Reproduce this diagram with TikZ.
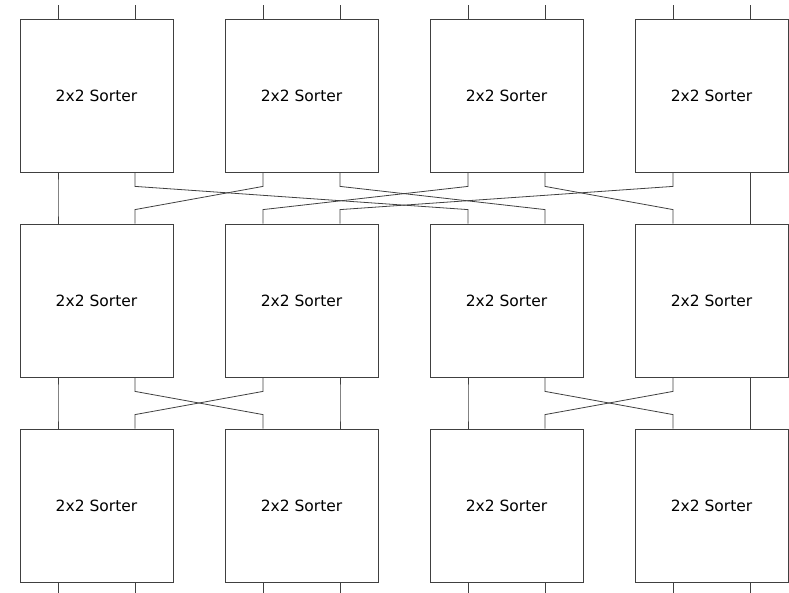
\documentclass[tikz,border=0pt]{standalone}
\usepackage{fontspec}
\setmainfont{DejaVu Sans}
\begin{document}
\begin{tikzpicture}[x=1pt,y=-1pt,
  sorter/.style={draw=black!75, line width=0.8pt, minimum width=153pt, minimum height=153pt, inner sep=0pt, font=\fontsize{15.5}{18}\selectfont},
  wire/.style={draw=black!75, line width=0.8pt}]
\useasboundingbox (0,0) rectangle (789,593);
% boxes
\foreach \c/\x in {1/96.5,2/301.5,3/506.5,4/711.5}{
  \foreach \r/\y in {1/95.5,2/300.5,3/505.5}{
    \node[sorter] (b\r\c) at (\x,\y) {2x2 Sorter};
  }
}
% port coordinates
\foreach \r in {1,2,3}{
  \foreach \c in {1,2,3,4}{
    \coordinate (t\r\c L) at ([xshift=-38.5pt]b\r\c.north);
    \coordinate (t\r\c R) at ([xshift=38.5pt]b\r\c.north);
    \coordinate (s\r\c L) at ([xshift=-38.5pt]b\r\c.south);
    \coordinate (s\r\c R) at ([xshift=38.5pt]b\r\c.south);
  }
}
% top and bottom stubs
\foreach \c in {1,2,3,4}{
  \draw[wire] (t1\c L) -- ++(0,-14);
  \draw[wire] (t1\c R) -- ++(0,-14);
  \draw[wire] (s3\c L) -- ++(0,12);
  \draw[wire] (s3\c R) -- ++(0,12);
}
% row1 -> row2 : 0->0,1->4,2->1,3->5,4->2,5->6,6->3,7->7
\newcommand{\conn}[2]{\draw[wire] (#1) -- ++(0,14) -- ([yshift=14pt]#2) -- (#2);}
\conn{s11L}{t21L}
\conn{s11R}{t23L}
\conn{s12L}{t21R}
\conn{s12R}{t23R}
\conn{s13L}{t22L}
\conn{s13R}{t24L}
\conn{s14L}{t22R}
\conn{s14R}{t24R}
% row2 -> row3
\conn{s21L}{t31L}
\conn{s21R}{t32L}
\conn{s22L}{t31R}
\conn{s22R}{t32R}
\conn{s23L}{t33L}
\conn{s23R}{t34L}
\conn{s24L}{t33R}
\conn{s24R}{t34R}
\end{tikzpicture}
\end{document}
